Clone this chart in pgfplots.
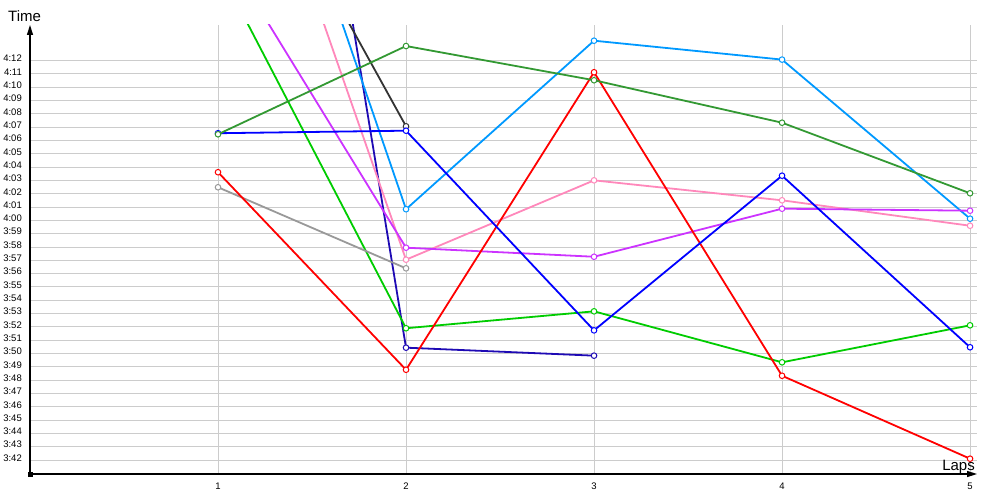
\documentclass[border=0pt]{standalone}
\usepackage{fontspec}
\setmainfont{Liberation Sans}
\usepackage{pgfplots}
\pgfplotsset{compat=1.18}
\usetikzlibrary{arrows.meta}

\definecolor{dgreen}{RGB}{51,153,51}
\definecolor{lgreen}{RGB}{0,204,0}
\definecolor{purp}{RGB}{204,51,255}
\definecolor{pinkl}{RGB}{255,136,187}
\definecolor{lblue}{RGB}{0,153,255}
\definecolor{darkg}{RGB}{51,51,51}
\definecolor{navy}{RGB}{30,10,180}
\definecolor{greyl}{RGB}{153,153,153}
\definecolor{gridc}{RGB}{204,204,204}

\begin{document}
\begin{tikzpicture}
\begin{axis}[
  at={(0,0)}, anchor=south west,
  scale only axis, width=947pt, height=449pt,
  xmin=0, xmax=5.037, ymin=220.95, ymax=254.68,
  axis lines=left,
  axis line style={line width=1.5pt, -{Triangle[length=10pt,width=6pt]}},
  xtick={1,2,3,4,5}, xticklabels={1,2,3,4,5},
  ytick={222,223,...,252},
  yticklabels={3:42,3:43,3:44,3:45,3:46,3:47,3:48,3:49,3:50,3:51,3:52,3:53,3:54,3:55,3:56,3:57,3:58,3:59,
    4:00,4:01,4:02,4:03,4:04,4:05,4:06,4:07,4:08,4:09,4:10,4:11,4:12},
  major tick length=0pt,
  grid=major, major grid style={draw=gridc, line width=1pt},
  tick label style={font=\fontsize{9.5}{10}\selectfont, inner sep=0pt},
  xticklabel style={anchor=north, yshift=-9pt},
  yticklabel style={anchor=east, xshift=-8pt, yshift=2pt},
  clip mode=individual,
  every axis plot/.append style={line width=1.8pt, mark=*, mark size=2.8pt,
    mark options={fill=white, line width=1pt, solid}},
]
% lap times in seconds
\addplot[navy] coordinates {(1,316.4) (2,230.44) (3,229.84)};
\addplot[darkg] coordinates {(1,272.6) (2,247.07)};
\addplot[lblue] coordinates {(1,281.96) (2,240.84) (3,253.5) (4,252.08) (5,240.13)};
\addplot[pinkl] coordinates {(1,277.6) (2,237.05) (3,243.01) (4,241.51) (5,239.6)};
\addplot[purp] coordinates {(1,260.96) (2,237.95) (3,237.27) (4,240.88) (5,240.73)};
\addplot[lgreen] coordinates {(1,259.06) (2,231.9) (3,233.17) (4,229.34) (5,232.12)};
\addplot[greyl] coordinates {(1,242.49) (2,236.4)};
\addplot[red] coordinates {(1,243.62) (2,228.78) (3,251.13) (4,228.33) (5,222.1)};
\addplot[blue] coordinates {(1,246.55) (2,246.74) (3,231.74) (4,243.36) (5,230.47)};
\addplot[dgreen] coordinates {(1,246.47) (2,253.1) (3,250.53) (4,247.34) (5,242.04)};

\node[anchor=west, inner sep=0pt, xshift=-22pt, yshift=9pt, font=\fontsize{15}{15}\selectfont]
  at (rel axis cs:0,1) {Time};
\node[anchor=base east, inner sep=0pt, xshift=-2pt, yshift=4pt, font=\fontsize{15}{15}\selectfont]
  at (rel axis cs:1,0) {Laps};
\fill (rel axis cs:0,0) +(-2.5pt,-2.5pt) rectangle +(2.5pt,2.5pt);
\end{axis}
\pgfresetboundingbox
\path[use as bounding box] (-30pt,-26pt) rectangle (970pt,474pt);
\end{tikzpicture}
\end{document}
